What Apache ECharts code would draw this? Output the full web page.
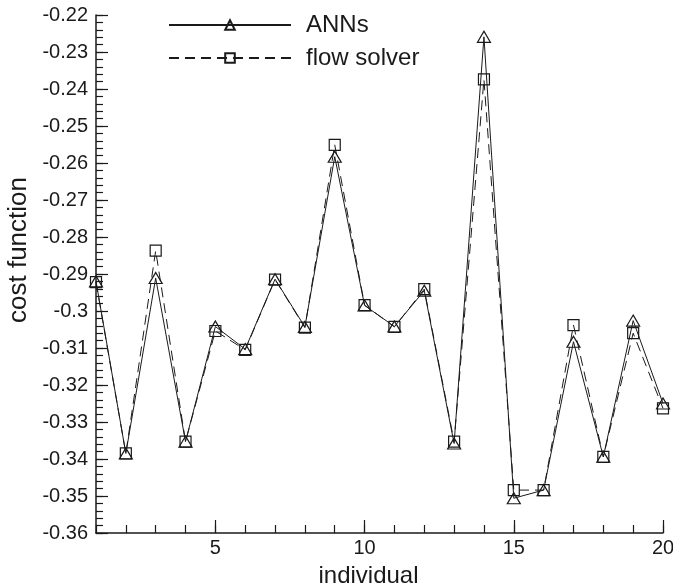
<!DOCTYPE html>
<html>
<head>
<meta charset="utf-8">
<script src="https://cdn.jsdelivr.net/npm/echarts@6/dist/echarts.min.js"></script>
<style>
html,body{margin:0;padding:0;background:#fff;}
#chart{width:673px;height:587px;}
</style>
</head>
<body>
<div id="chart"></div>
<script>
const individuals = [1,2,3,4,5,6,7,8,9,10,11,12,13,14,15,16,17,18,19,20];
const annValues = [-0.2920,-0.3385,-0.2911,-0.3353,-0.3042,-0.3103,-0.2914,-0.3043,-0.2583,-0.2985,-0.3042,-0.2945,-0.3358,-0.2259,-0.3506,-0.3484,-0.3083,-0.3394,-0.3026,-0.3250];
const flowSolverValues = [-0.2922,-0.3385,-0.2837,-0.3353,-0.3054,-0.3105,-0.2915,-0.3045,-0.2551,-0.2984,-0.3043,-0.2941,-0.3353,-0.2374,-0.3484,-0.3484,-0.3038,-0.3394,-0.3060,-0.3263];
const xMajorTicks = [5,10,15,20];
const yMin = -0.36, yMax = -0.22, yStep = 0.01, yMinorStep = 0.002;

const font = 'Liberation Sans, Arial, sans-serif';
const ink = '#1a1a1a';

const chart = echarts.init(document.getElementById('chart'), null, {renderer:'canvas'});
chart.setOption({
  animation: false,
  backgroundColor: '#fff',
  grid: {left: 96, right: 10, top: 15, bottom: 54, containLabel: false, outerBoundsMode: 'none'},
  legend: {
    orient: 'vertical',
    left: 163, top: 8,
    itemWidth: 122, itemHeight: 12, itemGap: 9,
    textStyle: {fontFamily: font, fontSize: 24, color: ink, padding: [0,0,0,10]},
    data: ['ANNs', 'flow solver']
  },
  xAxis: [{
    type: 'value', min: 1, max: 20, interval: 1,
    axisLine: {show: true, lineStyle: {color: ink, width: 1.5}},
    axisTick: {show: true, inside: true, length: 8, lineStyle: {color: ink, width: 1.2}},
    axisLabel: {
      fontFamily: font, fontSize: 20, color: ink, margin: 5,
      formatter: v => (xMajorTicks.indexOf(v) >= 0 ? String(v) : '')
    },
    splitLine: {show: false},
    name: 'individual', nameLocation: 'middle', nameGap: 31,
    nameTextStyle: {fontFamily: font, fontSize: 24, color: ink, padding: [0, 22, 0, 0]}
  }, {
    type: 'value', min: 1, max: 20, position: 'bottom',
    axisLine: {show: false},
    axisTick: {show: true, inside: true, length: 13, customValues: xMajorTicks, lineStyle: {color: ink, width: 1.2}},
    axisLabel: {show: false},
    splitLine: {show: false}
  }],
  yAxis: [{
    type: 'value', min: yMin, max: yMax, interval: yStep, position: 'left',
    axisLine: {show: true, lineStyle: {color: ink, width: 1.5}},
    axisTick: {show: true, inside: true, length: 12, lineStyle: {color: ink, width: 1.2}},
    axisLabel: {fontFamily: font, fontSize: 20, color: ink, margin: 8},
    splitLine: {show: false},
    name: 'cost function', nameLocation: 'middle', nameGap: 56,
    nameTextStyle: {fontFamily: font, fontSize: 26, color: ink, padding: [0, 0, 0, 48]}
  }, {
    type: 'value', min: yMin, max: yMax, interval: yMinorStep, position: 'left', offset: 0,
    axisLine: {show: false},
    axisTick: {show: true, inside: true, length: 7, lineStyle: {color: ink, width: 1.2}},
    axisLabel: {show: false},
    splitLine: {show: false}
  }],
  series: [{
    name: 'flow solver', type: 'line',
    data: individuals.map((x, i) => [x, flowSolverValues[i]]),
    symbol: 'rect', symbolSize: 11, showAllSymbol: true,
    itemStyle: {color: 'rgba(255,255,255,0)', borderColor: ink, borderWidth: 1.2},
    lineStyle: {color: ink, width: 1, type: [10, 6]},
    z: 2
  }, {
    name: 'ANNs', type: 'line',
    data: individuals.map((x, i) => [x, annValues[i]]),
    symbol: 'triangle', symbolSize: [13, 11], showAllSymbol: true,
    itemStyle: {color: 'rgba(255,255,255,0)', borderColor: ink, borderWidth: 1.2},
    lineStyle: {color: ink, width: 1, type: 'solid'},
    z: 3
  }]
});
</script>
</body>
</html>
